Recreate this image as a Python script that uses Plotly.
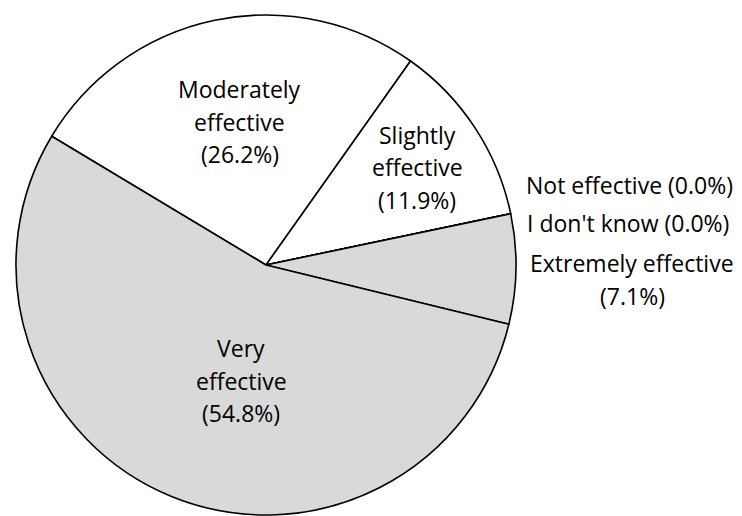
import plotly.graph_objects as go

# Survey responses: how effective was it?
labels = ["Moderately effective", "Slightly effective", "Not effective",
          "I don't know", "Extremely effective", "Very effective"]
values = [26.2, 11.9, 0.0, 0.0, 7.1, 54.8]
fills = ["#ffffff", "#ffffff", "#ffffff", "#ffffff", "#d9d9d9", "#d9d9d9"]

# How each label is broken into lines: "stack" = one word per line then the
# percentage, "two" = name then percentage, "one" = everything on one line
wrap = ["stack", "stack", "one", "one", "two", "stack"]

W, H = 742, 516
FONT = dict(family="'Open Sans', sans-serif", size=23, color="#000000")
LINE_GAP = 32.5
DESCENT = 7  # distance from text-box bottom up to the baseline

# label anchor: centre x, baseline of first line (pixels)
anchors = [(240, 99), (417, 145), (629, 195), (628, 233), (632, 273), (241, 358)]

fig = go.Figure(go.Pie(
    labels=labels,
    values=values,
    sort=False,
    direction="clockwise",
    rotation=-59,
    textinfo="none",
    hoverinfo="label+percent",
    marker=dict(colors=fills, line=dict(color="#000000", width=1.6)),
    domain=dict(x=[16 / W, 516 / W], y=[1 - 515 / H, 1 - 15 / H]),
    showlegend=False,
))


def label_lines(name, pct, mode):
    p = f"({pct:.1f}%)"
    if mode == "stack":
        return name.split(" ") + [p]
    if mode == "two":
        return [name, p]
    return [f"{name} {p}"]


annotations = []
for name, v, mode, (cx, by) in zip(labels, values, wrap, anchors):
    for i, line in enumerate(label_lines(name, v, mode)):
        bottom = by + i * LINE_GAP + DESCENT
        annotations.append(dict(
            x=cx / W, y=1 - bottom / H, xref="paper", yref="paper",
            text=line, showarrow=False, xanchor="center", yanchor="bottom",
            font=FONT, borderpad=0,
        ))

fig.update_layout(
    width=W, height=H,
    margin=dict(l=0, r=0, t=0, b=0),
    paper_bgcolor="#ffffff",
    plot_bgcolor="#ffffff",
    annotations=annotations,
)

fig.write_html("out.html", include_plotlyjs=True)
